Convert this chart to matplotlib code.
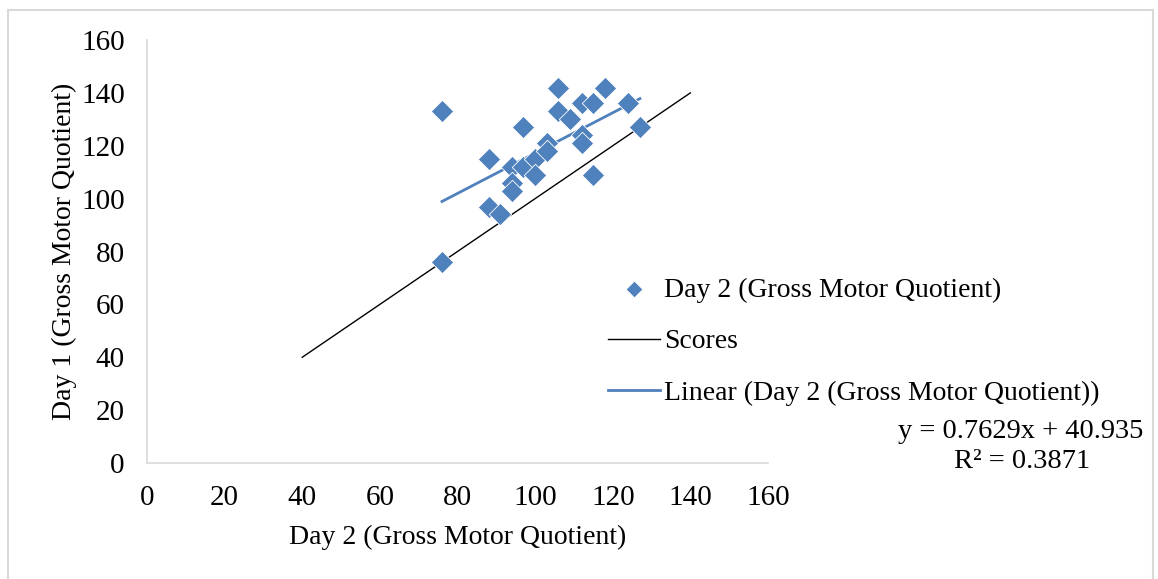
import matplotlib.pyplot as plt
from matplotlib.patches import Rectangle

# day 2 / day 1 gross motor quotient pairs
day2 = [76, 76, 88, 88, 91, 94, 94, 94, 97, 97, 100, 100, 103, 103,
        106, 106, 109, 112, 112, 112, 115, 115, 118, 124, 127]
day1 = [133, 76, 115, 97, 94, 112, 106, 103, 127, 112, 115, 109, 121, 118,
        142, 133, 130, 136, 124, 121, 136, 109, 142, 136, 127]

scores_x = [40, 140]
scores_y = [40, 140]

slope = 0.7629
intercept = 40.935
r2 = 0.3871

ticks = [0, 20, 40, 60, 80, 100, 120, 140, 160]

plt.rcParams['font.family'] = ['Liberation Serif', 'DejaVu Serif']

fig = plt.figure(figsize=(11.58, 5.79), dpi=100)
W, H = 1158, 579
ax = fig.add_axes([147 / W, 1 - 463 / H, (768 - 147) / W, (463 - 40) / H])

blue = '#4F81BD'
ax.scatter(day2, day1, marker='D', s=130, color=blue, edgecolors='white',
           linewidths=0.6, zorder=3, label='Day 2 (Gross Motor Quotient)')
ax.plot(scores_x, scores_y, color='black', lw=1.0, label='Scores', zorder=2)
tx = [min(day2), max(day2)]
ty = [slope * v + intercept for v in tx]
ax.plot(tx, ty, color=blue, lw=2.0, label='Linear (Day 2 (Gross Motor Quotient))',
        zorder=2)

ax.set_xlim(0, 160)
ax.set_ylim(0, 160)
ax.set_xticks(ticks)
ax.set_yticks(ticks)
ax.tick_params(length=0, labelsize=21, colors='black')
ax.tick_params(axis='x', pad=16)
ax.tick_params(axis='y', pad=16)
for s in ['top', 'right']:
    ax.spines[s].set_visible(False)
for s in ['left', 'bottom']:
    ax.spines[s].set_color('#D9D9D9')
    ax.spines[s].set_linewidth(1.2)

ax.set_xlabel('Day 2 (Gross Motor Quotient)', fontsize=20, labelpad=10)
ax.set_ylabel('Day 1 (Gross Motor Quotient)', fontsize=20, labelpad=3)

handles, labels = ax.get_legend_handles_labels()
leg = fig.legend(handles, labels, loc='upper left',
                 bbox_to_anchor=(597 / W, 1 - 266 / H), frameon=False,
                 fontsize=20, handlelength=1.85, handletextpad=0.15,
                 labelspacing=0.95, borderaxespad=0, markerscale=0.75)

fig.text(1143 / W, 1 - 432 / H, 'y = %.4fx + %.3f' % (slope, intercept),
         ha='right', va='center', fontsize=20.5)
fig.text(1022 / W, 1 - 462 / H, 'R² = %.4f' % r2,
         ha='center', va='center', fontsize=20.5)

fig.patches.append(Rectangle((8 / W, -0.05), (1153 - 8) / W, 1 - 10 / H + 0.05,
                             transform=fig.transFigure, fill=False,
                             edgecolor='#D9D9D9', lw=1.5))

fig.savefig('out.png', dpi=100)
